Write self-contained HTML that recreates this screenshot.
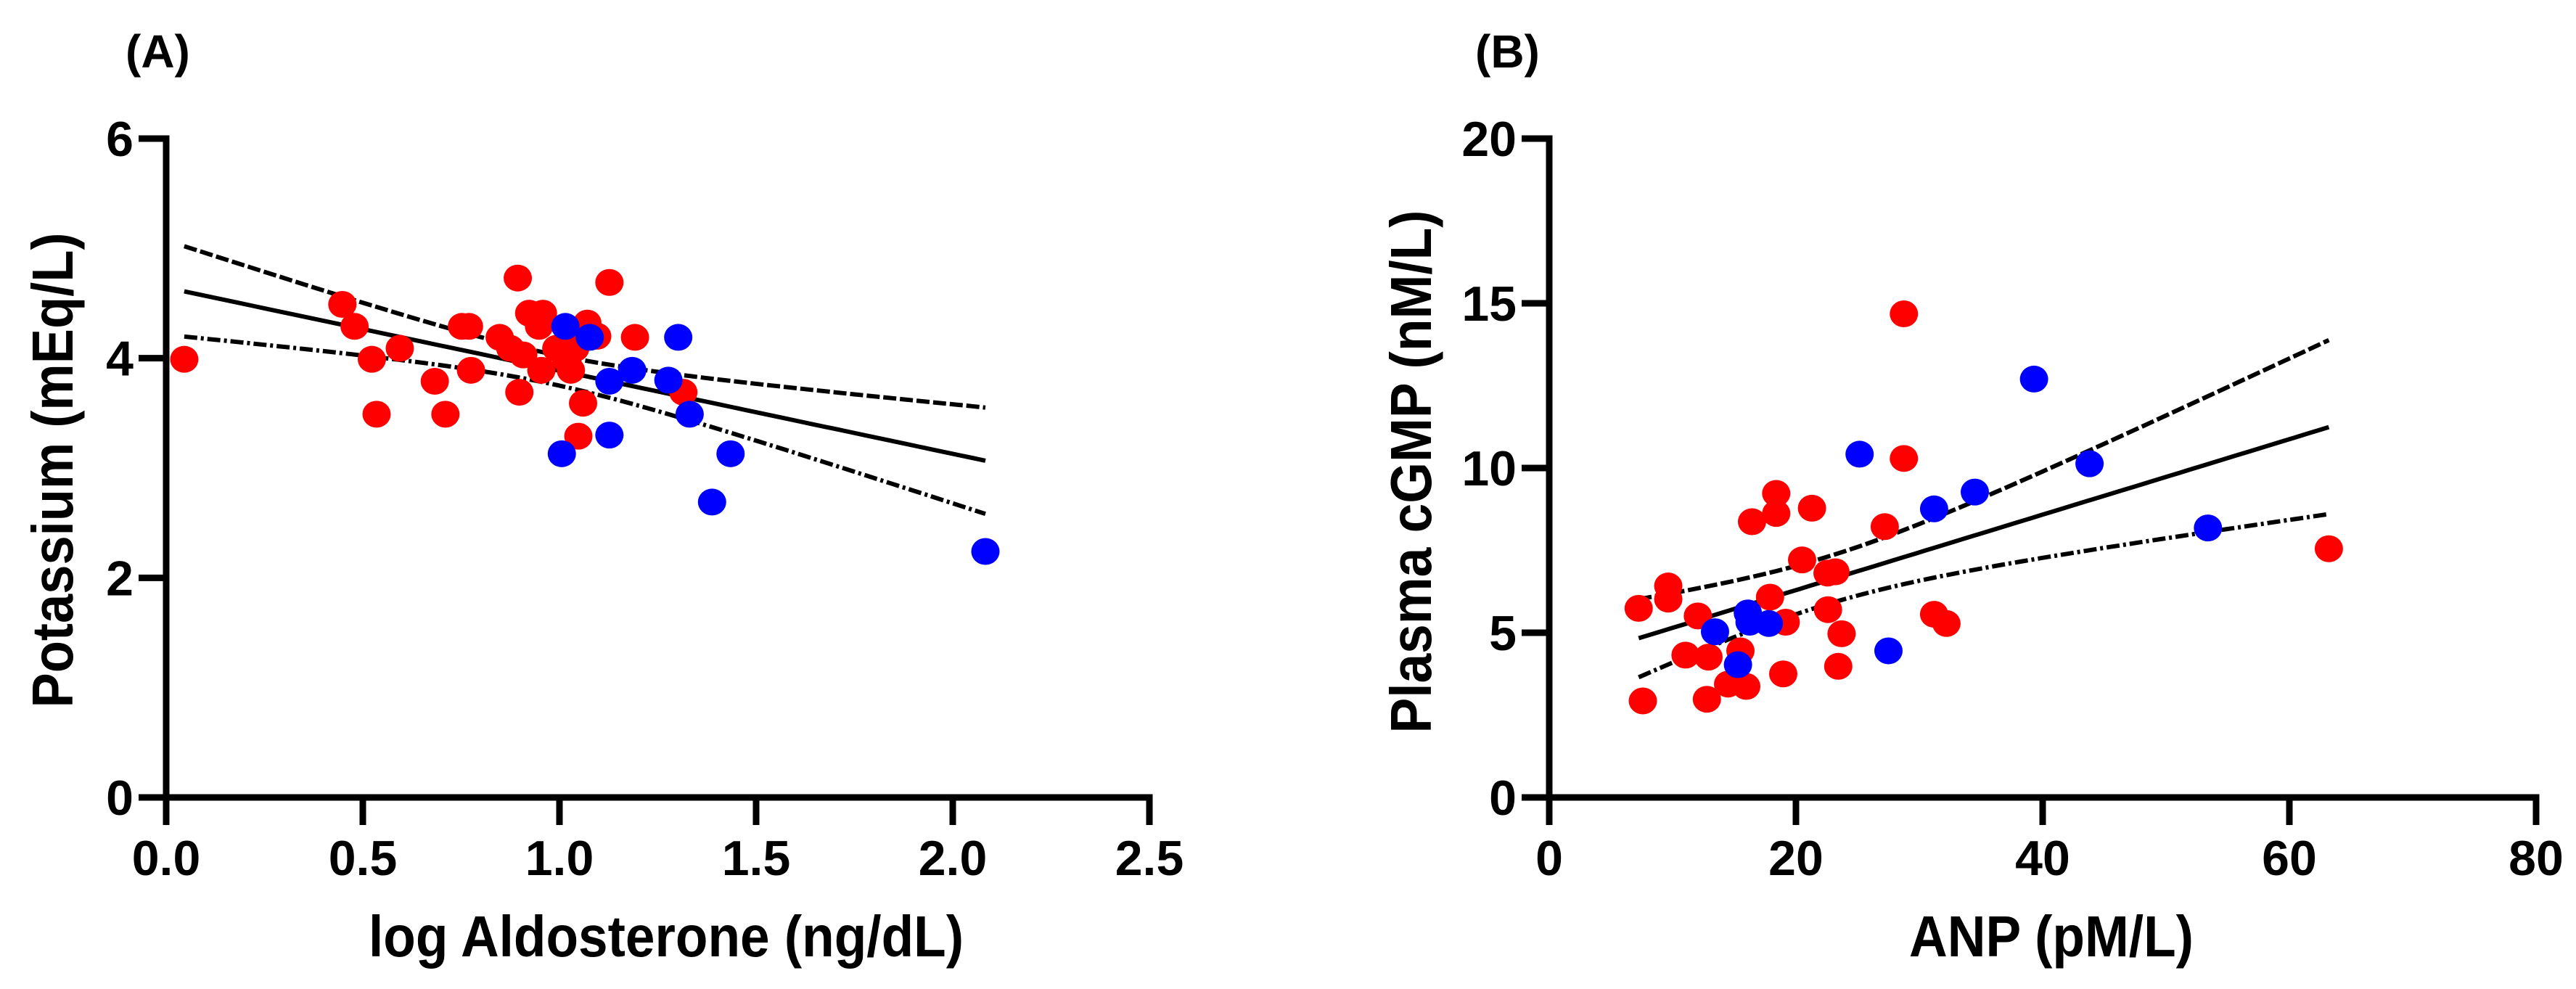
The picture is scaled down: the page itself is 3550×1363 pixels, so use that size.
<!DOCTYPE html>
<html><head><meta charset="utf-8"><style>
html,body{margin:0;padding:0;background:#fff;}
svg{display:block;}
text{font-family:"Liberation Sans",Arial,sans-serif;font-weight:bold;fill:#000;}
</style></head><body>
<svg id="chart" width="3550" height="1363" viewBox="0 0 3550 1363" xmlns="http://www.w3.org/2000/svg">
<g id="panelA"></g>
<g id="panelB"></g>
</svg>
<script>
// Panel A data
const aRedX=[0.046,0.448,0.479,0.523,0.535,0.594,0.683,0.71,0.752,0.77,0.775,0.848,0.875,0.894,0.898,0.908,0.923,0.948,0.958,0.954,0.992,1.017,1.029,1.04,1.071,1.096,1.06,1.048,1.127,1.192,1.315];
const aRedY=[3.99,4.49,4.29,3.99,3.49,4.09,3.79,3.49,4.29,4.29,3.89,4.19,4.09,4.73,3.69,4.03,4.41,4.29,4.41,3.89,4.09,3.99,3.89,4.09,4.32,4.2,3.59,3.29,4.69,4.19,3.69];
const aBlueX=[1.015,1.077,1.127,1.127,1.006,1.185,1.277,1.302,1.331,1.435,1.388,2.083];
const aBlueY=[4.29,4.19,3.79,3.3,3.13,3.89,3.8,4.19,3.49,3.13,2.69,2.24];
const aXTicks=["0.0","0.5","1.0","1.5","2.0","2.5"];
const aYTicks=["0","2","4","6"];
// Panel B data
const bRedX=[7.25,7.59,9.65,9.65,11.05,12.05,12.91,12.78,14.5,15.5,15.97,16.44,17.9,18.4,18.4,19.17,18.97,20.5,21.3,22.6,22.56,23.2,23.7,23.43,27.2,28.75,28.75,31.2,32.2,63.2];
const bRedY=[5.74,2.93,6.42,6.02,4.32,5.51,4.26,2.98,3.44,4.45,3.37,8.37,6.08,9.23,8.62,5.32,3.75,7.21,8.78,5.7,6.81,6.85,4.97,3.98,8.22,14.68,10.29,5.56,5.28,7.55];
const bBlueX=[13.44,15.3,16.1,16.24,17.8,25.16,27.5,31.2,34.5,39.3,43.8,53.4];
const bBlueY=[5.03,4.03,5.6,5.32,5.28,10.42,4.45,8.76,9.27,12.7,10.13,8.18];
const bXTicks=["0","20","40","60","80"];
const bYTicks=["0","5","10","15","20"];

const NS="http://www.w3.org/2000/svg";
function mk(parent,tag,attrs){const e=document.createElementNS(NS,tag);for(const k in attrs)e.setAttribute(k,attrs[k]);parent.appendChild(e);return e;}

function panel(g,cfg){
  const sx=v=>cfg.x0+(v-cfg.xmin)/(cfg.xmax-cfg.xmin)*(cfg.x1-cfg.x0);
  const sy=v=>cfg.y0-(v-cfg.ymin)/(cfg.ymax-cfg.ymin)*(cfg.y0-cfg.y1);
  let ax=mk(g,'line',{x1:cfg.x0,y1:cfg.y0+4.5,x2:cfg.x0,y2:cfg.y1-4.5,stroke:'#000','stroke-width':9});
  
  
  ax=mk(g,'line',{x1:cfg.x0-4.5,y1:cfg.y0,x2:cfg.x1+4.5,y2:cfg.y0,stroke:'#000','stroke-width':9});
  
  
  cfg.xt.forEach(t=>{const v=parseFloat(t),x=sx(v);
    const l=mk(g,'line',{x1:x,y1:cfg.y0,x2:x,y2:cfg.y0+38,stroke:'#000','stroke-width':9});
    
    
    const tx=mk(g,'text',{x:x,y:1206,'font-size':68,'text-anchor':'middle'});tx.textContent=t;
    
    
  });
  cfg.yt.forEach(t=>{const v=parseFloat(t),y=sy(v);
    const l=mk(g,'line',{x1:cfg.x0,y1:y,x2:cfg.x0-38,y2:y,stroke:'#000','stroke-width':9});
    
    
    const tx=mk(g,'text',{x:cfg.x0-45,y:y+24,'font-size':68,'text-anchor':'end'});tx.textContent=t;
    
    
  });
  const X=cfg.rx.concat(cfg.bx),Y=cfg.ry.concat(cfg.by),n=X.length;
  const mx=X.reduce((a,b)=>a+b)/n,my=Y.reduce((a,b)=>a+b)/n;
  let sxx=0,sxy=0;for(let i=0;i<n;i++){sxx+=(X[i]-mx)**2;sxy+=(X[i]-mx)*(Y[i]-my);}
  const b=sxy/sxx,a=my-b*mx;let sse=0;for(let i=0;i<n;i++)sse+=(Y[i]-a-b*X[i])**2;
  const s=Math.sqrt(sse/(n-2)),t=2.02;
  const xmn=Math.min(...X),xmx=Math.max(...X);
  const pts=k=>{let p=[];for(let i=0;i<=60;i++){const x=xmn+(xmx-xmn)*i/60;const w=t*s*Math.sqrt(1/n+(x-mx)**2/sxx);p.push(sx(x).toFixed(1)+','+sy(a+b*x+k*w).toFixed(1));}return p.join(' ');};
  let ln=mk(g,'polyline',{points:pts(0),fill:'none',stroke:'#000','stroke-width':6});
  
  
  ln=mk(g,'polyline',{points:pts(1),fill:'none',stroke:'#000','stroke-width':6,'stroke-dasharray':'18 5'});
  
  
  ln=mk(g,'polyline',{points:pts(-1),fill:'none',stroke:'#000','stroke-width':6,'stroke-dasharray':'18 5 4 5'});
  
  
  cfg.rx.forEach((v,i)=>{const c=mk(g,'ellipse',{cx:sx(v),cy:sy(cfg.ry[i]),rx:19.5,ry:18.5,fill:'#ff0000'});
    
    });
  cfg.bx.forEach((v,i)=>{const c=mk(g,'ellipse',{cx:sx(v),cy:sy(cfg.by[i]),rx:19.5,ry:18.5,fill:'#0000ff'});
    
    });
  let tt=mk(g,'text',{x:cfg.lx,y:93,'font-size':64});tt.textContent=cfg.label;
  
  
  tt=mk(g,'text',{x:cfg.xtx,y:1318,'font-size':80,'text-anchor':'middle',textLength:cfg.xtl,lengthAdjust:'spacingAndGlyphs'});tt.textContent=cfg.xtitle;
  
  
  tt=mk(g,'text',{x:0,y:0,'font-size':80,'text-anchor':'middle',textLength:cfg.ytl,lengthAdjust:'spacingAndGlyphs',transform:`translate(${cfg.ytx},${cfg.yty}) rotate(-90)`});tt.textContent=cfg.ytitle;
  
  
}
panel(document.getElementById('panelA'),{x0:229,x1:1584,y0:1099,y1:191,xmin:0,xmax:2.5,ymin:0,ymax:6,xt:aXTicks,yt:aYTicks,rx:aRedX,ry:aRedY,bx:aBlueX,by:aBlueY,label:'(A)',lx:173,xtitle:'log Aldosterone (ng/dL)',xtx:918,xtl:820,ytitle:'Potassium (mEq/L)',ytx:100,yty:648,ytl:655});
panel(document.getElementById('panelB'),{x0:2135,x1:3495,y0:1099,y1:191,xmin:0,xmax:80,ymin:0,ymax:20,xt:bXTicks,yt:bYTicks,rx:bRedX,ry:bRedY,bx:bBlueX,by:bBlueY,label:'(B)',lx:2033,xtitle:'ANP (pM/L)',xtx:2827,xtl:392,ytitle:'Plasma cGMP (nM/L)',ytx:1972,yty:650,ytl:721});
</script>
</body></html>
